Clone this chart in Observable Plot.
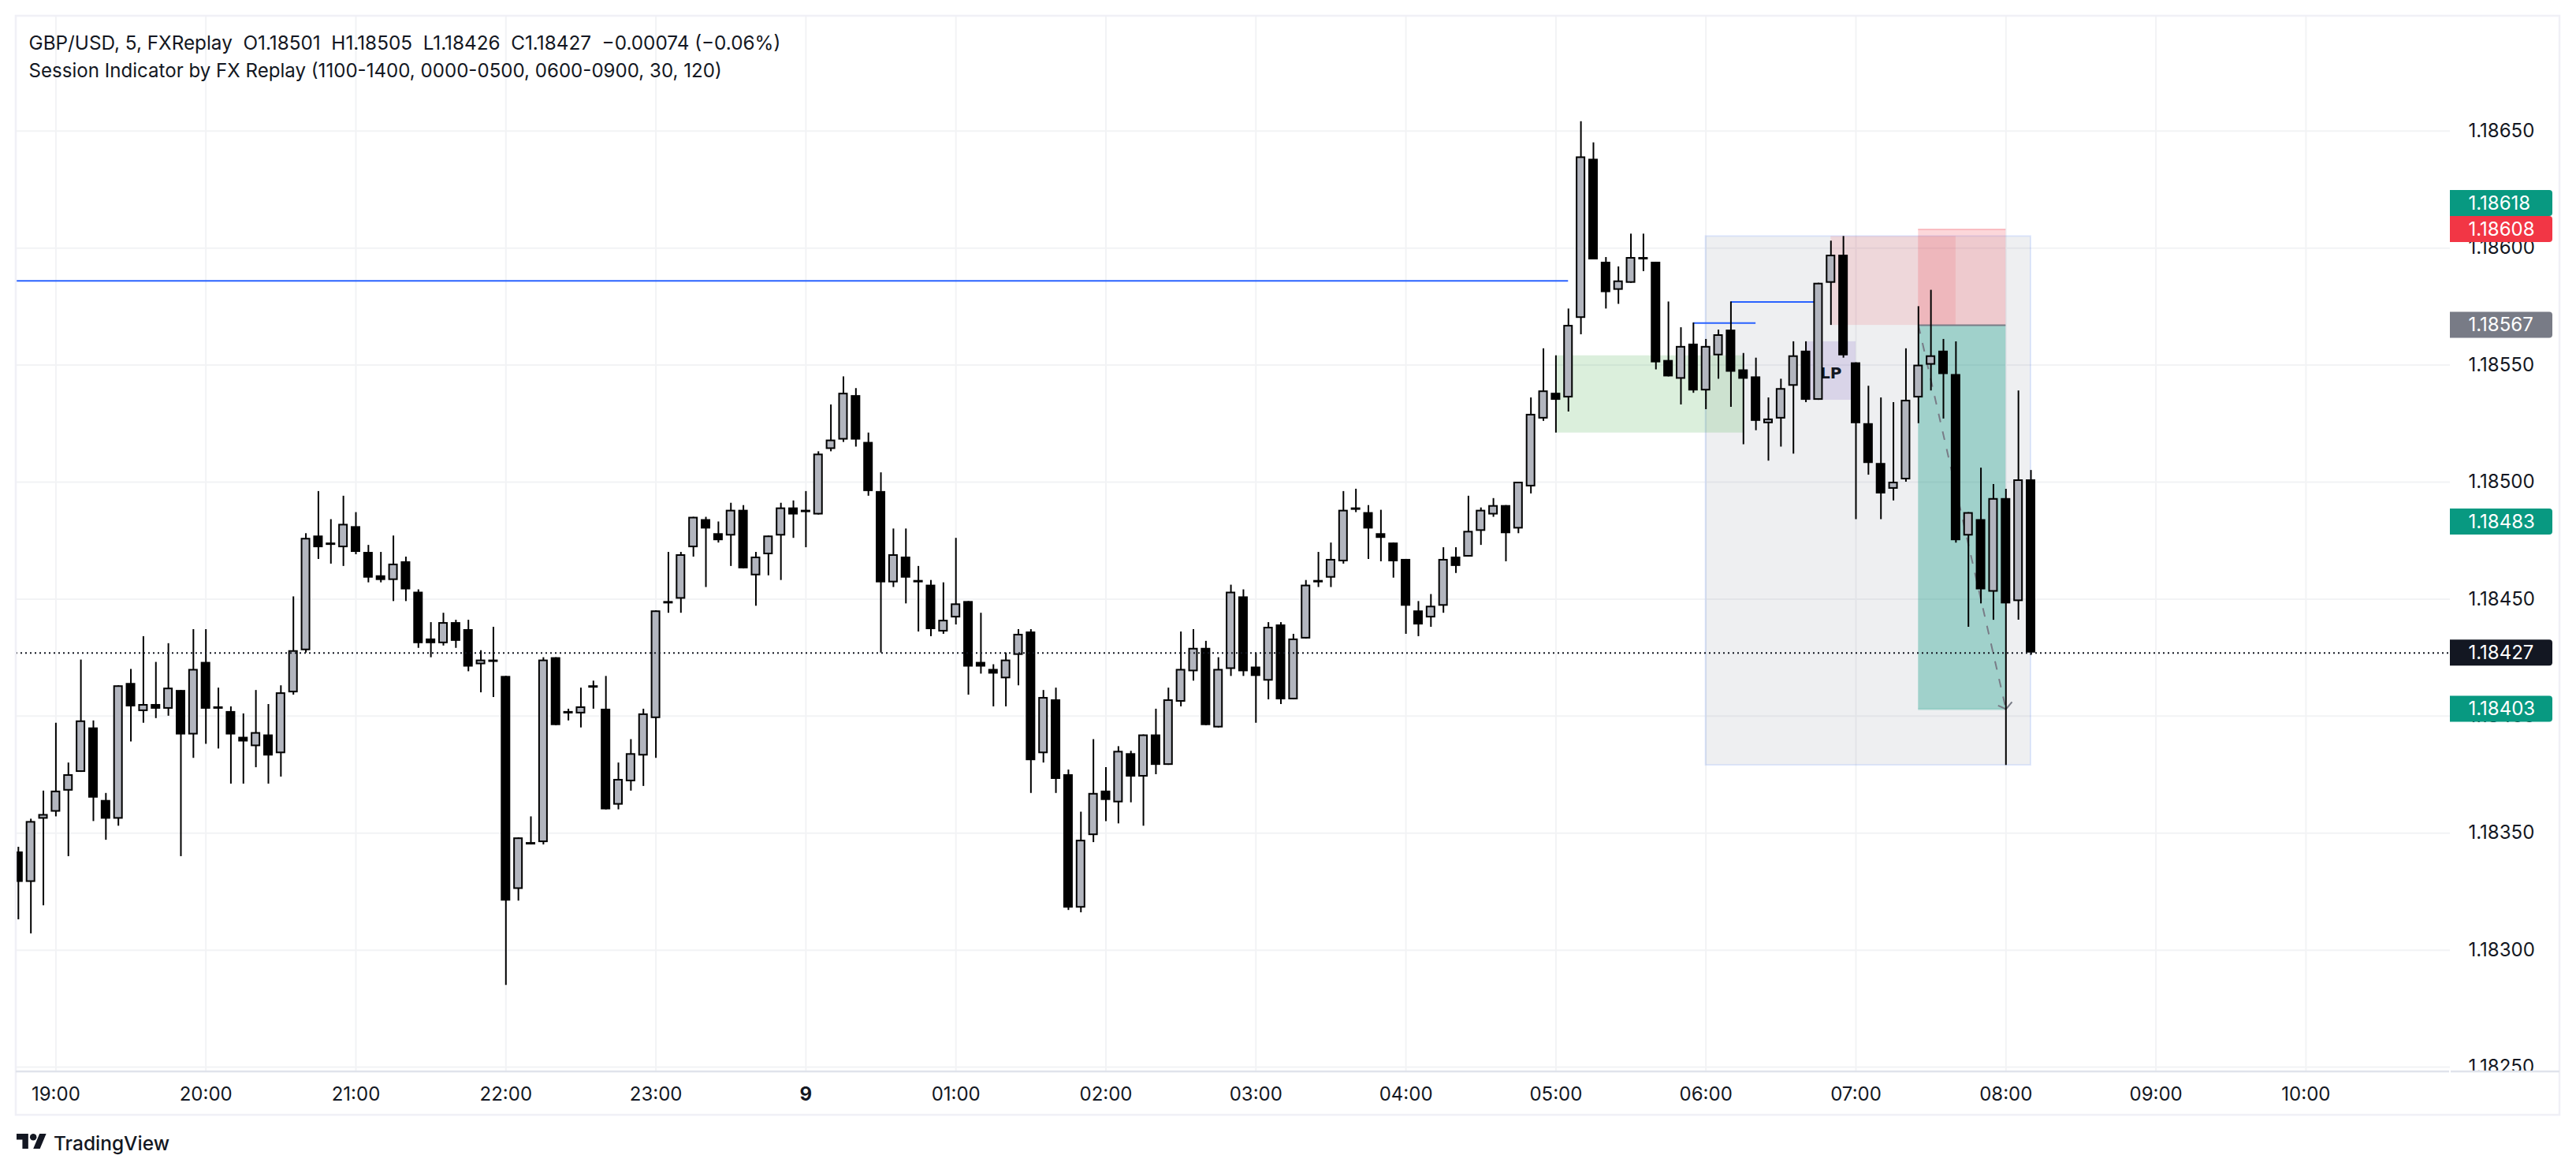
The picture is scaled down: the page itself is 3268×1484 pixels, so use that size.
<!DOCTYPE html>
<html><head><meta charset="utf-8">
<style>html,body{margin:0;padding:0;background:#fff;overflow:hidden}svg{display:block}</style>
<script src="https://cdn.jsdelivr.net/npm/d3@7"></script>
<script src="https://cdn.jsdelivr.net/npm/@observablehq/plot@0.6"></script>
</head><body><div id="chart"></div>
<script>
// Candles, one every 5 minutes; the first bar sits 3 bars before the 19:00 tick.
const opens=[1.18342,1.18329,1.18356,1.18359,1.18368,1.18376,1.18395,1.18364,1.18356,1.18414,
1.18402,1.18405,1.18403,1.18411,1.18392,1.18423,1.18404,1.18402,1.18391,1.18387,
1.18392,1.18384,1.18410,1.18428,1.18477,1.18474,1.18472,1.18481,1.18470,1.18460,
1.18458,1.18466,1.18453,1.18433,1.18431,1.18440,1.18437,1.18422,1.18424,1.18417,
1.18326,1.18346,1.18346,1.18425,1.18402,1.18401,1.18413,1.18403,1.18362,1.18372,
1.18383,1.18399,1.18449,1.18450,1.18472,1.18484,1.18478,1.18477,1.18488,1.18460,
1.18469,1.18477,1.18489,1.18488,1.18486,1.18514,1.18518,1.18537,1.18517,1.18496,
1.18457,1.18468,1.18458,1.18456,1.18436,1.18442,1.18449,1.18423,1.18420,1.18416,
1.18426,1.18436,1.18384,1.18407,1.18375,1.18318,1.18349,1.18368,1.18363,1.18384,
1.18374,1.18392,1.18379,1.18406,1.18419,1.18429,1.18395,1.18420,1.18451,1.18421,
1.18415,1.18439,1.18407,1.18433,1.18458,1.18459,1.18466,1.18489,1.18487,1.18478,
1.18474,1.18467,1.18445,1.18442,1.18447,1.18468,1.18468,1.18479,1.18486,1.18490,
1.18480,1.18498,1.18527,1.18538,1.18536,1.18570,1.18638,1.18594,1.18582,1.18585,
1.18596,1.18594,1.18552,1.18544,1.18559,1.18539,1.18554,1.18565,1.18548,1.18545,
1.18525,1.18527,1.18541,1.18556,1.18535,1.18585,1.18597,1.18551,1.18525,1.18508,
1.18497,1.18501,1.18536,1.18550,1.18556,1.18546,1.18477,1.18484,1.18453,1.18493,
1.18449,1.18501];
const highs=[1.18344,1.18356,1.18368,1.18397,1.18380,1.18424,1.18398,1.18367,1.18413,1.18420,
1.18434,1.18423,1.18431,1.18411,1.18437,1.18437,1.18412,1.18404,1.18401,1.18411,
1.18405,1.18413,1.18451,1.18478,1.18496,1.18484,1.18494,1.18487,1.18473,1.18470,
1.18477,1.18468,1.18454,1.18440,1.18444,1.18441,1.18441,1.18428,1.18438,1.18417,
1.18348,1.18357,1.18425,1.18425,1.18403,1.18412,1.18415,1.18417,1.18380,1.18390,
1.18403,1.18445,1.18470,1.18470,1.18485,1.18485,1.18483,1.18491,1.18490,1.18470,
1.18477,1.18491,1.18492,1.18496,1.18513,1.18533,1.18545,1.18540,1.18521,1.18504,
1.18480,1.18480,1.18464,1.18458,1.18457,1.18476,1.18449,1.18444,1.18422,1.18427,
1.18437,1.18437,1.18411,1.18412,1.18377,1.18359,1.18390,1.18378,1.18387,1.18385,
1.18392,1.18403,1.18412,1.18436,1.18437,1.18432,1.18425,1.18456,1.18454,1.18427,
1.18440,1.18440,1.18435,1.18458,1.18470,1.18474,1.18496,1.18497,1.18490,1.18488,
1.18474,1.18467,1.18449,1.18452,1.18472,1.18472,1.18494,1.18489,1.18493,1.18490,
1.18500,1.18536,1.18557,1.18554,1.18574,1.18654,1.18645,1.18596,1.18592,1.18606,
1.18606,1.18594,1.18577,1.18566,1.18568,1.18561,1.18565,1.18577,1.18555,1.18553,
1.18536,1.18544,1.18560,1.18560,1.18585,1.18603,1.18605,1.18551,1.18541,1.18536,
1.18534,1.18557,1.18575,1.18582,1.18561,1.18560,1.18487,1.18506,1.18499,1.18497,
1.18539,1.18505];
const lows=[1.18313,1.18307,1.18319,1.18357,1.18340,1.18376,1.18355,1.18347,1.18353,1.18389,
1.18397,1.18399,1.18400,1.18340,1.18382,1.18388,1.18386,1.18371,1.18371,1.18378,
1.18371,1.18374,1.18409,1.18427,1.18467,1.18465,1.18464,1.18469,1.18457,1.18457,
1.18449,1.18449,1.18429,1.18425,1.18430,1.18429,1.18419,1.18410,1.18408,1.18285,
1.18321,1.18345,1.18345,1.18396,1.18398,1.18395,1.18403,1.18360,1.18360,1.18368,
1.18370,1.18382,1.18444,1.18444,1.18468,1.18455,1.18474,1.18464,1.18463,1.18447,
1.18460,1.18458,1.18476,1.18472,1.18486,1.18513,1.18517,1.18515,1.18494,1.18427,
1.18455,1.18448,1.18436,1.18434,1.18435,1.18439,1.18409,1.18418,1.18404,1.18404,
1.18413,1.18367,1.18380,1.18367,1.18317,1.18316,1.18346,1.18355,1.18354,1.18363,
1.18353,1.18375,1.18379,1.18404,1.18415,1.18396,1.18395,1.18417,1.18417,1.18397,
1.18407,1.18405,1.18407,1.18433,1.18455,1.18455,1.18465,1.18487,1.18467,1.18466,
1.18459,1.18435,1.18434,1.18438,1.18444,1.18461,1.18468,1.18473,1.18485,1.18466,
1.18478,1.18495,1.18526,1.18521,1.18530,1.18563,1.18595,1.18574,1.18576,1.18585,
1.18590,1.18548,1.18545,1.18533,1.18538,1.18531,1.18544,1.18532,1.18516,1.18522,
1.18509,1.18515,1.18512,1.18534,1.18535,1.18567,1.18553,1.18484,1.18503,1.18484,
1.18492,1.18500,1.18525,1.18539,1.18527,1.18474,1.18438,1.18448,1.18441,1.18379,
1.18441,1.18426];
const closes=[1.18329,1.18355,1.18358,1.18368,1.18375,1.18398,1.18365,1.18356,1.18413,1.18404,
1.18405,1.18403,1.18412,1.18392,1.18420,1.18403,1.18403,1.18392,1.18389,1.18393,
1.18383,1.18410,1.18428,1.18476,1.18472,1.18473,1.18482,1.18470,1.18459,1.18458,
1.18465,1.18454,1.18431,1.18431,1.18440,1.18432,1.18421,1.18424,1.18423,1.18321,
1.18348,1.18345,1.18424,1.18396,1.18401,1.18404,1.18412,1.18360,1.18373,1.18384,
1.18401,1.18445,1.18448,1.18469,1.18485,1.18480,1.18475,1.18488,1.18463,1.18468,
1.18477,1.18489,1.18486,1.18487,1.18512,1.18518,1.18538,1.18518,1.18496,1.18457,
1.18469,1.18459,1.18457,1.18437,1.18441,1.18448,1.18421,1.18421,1.18418,1.18424,
1.18435,1.18381,1.18408,1.18373,1.18318,1.18347,1.18367,1.18364,1.18385,1.18374,
1.18392,1.18379,1.18407,1.18420,1.18429,1.18396,1.18420,1.18453,1.18419,1.18417,
1.18438,1.18407,1.18433,1.18456,1.18457,1.18467,1.18488,1.18488,1.18480,1.18476,
1.18466,1.18447,1.18439,1.18447,1.18467,1.18464,1.18479,1.18488,1.18490,1.18478,
1.18500,1.18529,1.18539,1.18535,1.18567,1.18639,1.18595,1.18581,1.18586,1.18596,
1.18595,1.18551,1.18545,1.18558,1.18539,1.18558,1.18563,1.18547,1.18544,1.18526,
1.18527,1.18540,1.18554,1.18535,1.18585,1.18597,1.18554,1.18525,1.18508,1.18495,
1.18500,1.18535,1.18550,1.18554,1.18546,1.18475,1.18487,1.18454,1.18493,1.18448,
1.18501,1.18427];
const firstBar=-3;

const priceTicks=[1.1865,1.186,1.1855,1.185,1.1845,1.184,1.1835,1.183,1.1825];
const timeLabels=["19:00","20:00","21:00","22:00","23:00","9","01:00","02:00","03:00","04:00","05:00","06:00","07:00","08:00","09:00","10:00"];
const barsPerHour=12;

const lastPrice=1.18427;
const badgePrices=[1.18618,1.18608,1.18567,1.18483,1.18427,1.18403];
const badgeKinds=["profit","loss","entry","profit","last","profit"];

const legendLines=[
 "GBP/USD, 5, FXReplay\u00a0\u00a0O1.18501\u00a0\u00a0H1.18505\u00a0\u00a0L1.18426\u00a0\u00a0C1.18427\u00a0\u00a0\u22120.00074 (\u22120.06%)",
 "Session Indicator by FX Replay (1100-1400, 0000-0500, 0600-0900, 30, 120)"];

// Drawing-tool levels, as bar index and price.
const sessionBox={from:132,to:158,top:1.18605,bottom:1.18379};
const demandBox={from:120,to:135,top:1.18554,bottom:1.18521};
const supplyBox={from:142,to:152,top:1.18605,bottom:1.18567};
const lpBox={from:140,to:144,top:1.1856,bottom:1.18535,label:"LP"};
const position={from:149,to:156,stop:1.18608,entry:1.18567,target:1.18403};
const blueLevels=[{from:firstBar-1,to:121,price:1.18586},{from:131,to:136,price:1.18568},{from:134,to:141,price:1.18577}];

const candles=opens.map((o,i)=>({bar:i+firstBar,o,h:highs[i],l:lows[i],c:closes[i],up:closes[i]>o}));
const hours=timeLabels.map((label,i)=>({bar:i*barsPerHour,label}));

const GRID="#f2f3f5",INK="#131722",BODY="#b2b5be",BLUE="#2962ff";
const colors={profit:"#089981",loss:"#f23645",entry:"#787b86",last:"#131722"};
const W=3268,H=1484,L=20,R=160,T=20,B=125;
const pxPerBar=190.3/barsPerHour;
const xDomain=[(L-70.4)/pxPerBar,(W-R-70.4)/pxPerBar];
const yDomain=[1.18248,1.186991];
const half=6/pxPerBar;

// Stack the price badges so that neighbours do not overlap (33px tall).
const pxPerPrice=(H-B-T)/(yDomain[1]-yDomain[0]);
const badgeSpan=33/pxPerPrice;
const stacked=badgePrices.slice();
for(let i=stacked.length-1;i>0;i--){ if(stacked[i-1]-stacked[i]<badgeSpan) stacked[i-1]=stacked[i]+badgeSpan; }
const badges=badgePrices.map((p,i)=>({price:p,at:stacked[i],color:colors[badgeKinds[i]]}));
const axisEnd=(3238-70.4)/pxPerBar;

const box=(b,fill,fillOpacity)=>Plot.rect([b],{x1:"from",x2:"to",y1:"bottom",y2:"top",fill,fillOpacity});
const vee={draw(ctx){ctx.moveTo(-10,-4.5);ctx.lineTo(0,0);ctx.lineTo(7.7,-9);}};
const font="Inter";
const isDay=d=>d.label.length<3;

const chart=Plot.plot({
  width:W,height:H,marginLeft:L,marginRight:R,marginTop:T,marginBottom:B,
  x:{type:"linear",domain:xDomain,axis:null},
  y:{type:"linear",domain:yDomain,axis:null},
  style:{background:"#fff",fontFamily:font,overflow:"visible"},
  marks:[
    Plot.ruleX(hours,{x:"bar",stroke:GRID,strokeWidth:2}),
    Plot.ruleY(priceTicks,{stroke:GRID,strokeWidth:2}),

    Plot.rect([sessionBox],{x1:"from",x2:"to",y1:"bottom",y2:"top",fill:"#7c8493",fillOpacity:0.13,stroke:BLUE,strokeOpacity:0.13,strokeWidth:2}),
    box(demandBox,"#4caf50",0.2),
    box(supplyBox,"#f23645",0.13),
    box(lpBox,"#673ab7",0.15),
    Plot.rect([position],{x1:"from",x2:"to",y1:"entry",y2:"stop",fill:"#f23645",fillOpacity:0.2}),
    Plot.rect([position],{x1:"from",x2:"to",y1:"target",y2:"entry",fill:"#089981",fillOpacity:0.34}),
    Plot.ruleY([position],{y:"stop",x1:"from",x2:"to",stroke:"#f23645",strokeOpacity:0.2,strokeWidth:2}),
    Plot.ruleY([position],{y:"target",x1:"from",x2:"to",stroke:"#089981",strokeOpacity:0.3,strokeWidth:2}),
    Plot.ruleY([position],{y:"entry",x1:"from",x2:"to",stroke:"#787b86",strokeWidth:2}),
    Plot.link([position],{x1:"from",x2:"to",y1:"entry",y2:"target",stroke:"#787b86",strokeWidth:2,strokeDasharray:"11 12"}),
    Plot.dot([position],{x:"to",y:"target",symbol:vee,stroke:"#787b86",strokeWidth:2,fill:"none"}),

    Plot.ruleY(blueLevels,{y:"price",x1:"from",x2:"to",stroke:BLUE,strokeWidth:2,clip:"frame"}),
    Plot.text([lpBox],{x:d=>(d.from+d.to)/2,y:d=>(d.top+d.bottom)/2-0.00001,text:"label",fill:INK,fontFamily:"DejaVu Sans",fontWeight:700,fontSize:20}),

    Plot.ruleX(candles,{x:"bar",y1:"l",y2:"h",stroke:"#000",strokeWidth:2}),
    Plot.rect(candles,{x1:d=>d.bar-half,x2:d=>d.bar+half,y1:d=>Math.min(d.o,d.c),y2:d=>Math.max(d.o,d.c),fill:"#000",clip:"frame"}),
    Plot.rect(candles.filter(d=>d.up),{x1:d=>d.bar-half,x2:d=>d.bar+half,y1:d=>Math.min(d.o,d.c),y2:d=>Math.max(d.o,d.c),fill:BODY,inset:2,clip:"frame"}),

    Plot.ruleY([lastPrice],{stroke:INK,strokeWidth:2,strokeDasharray:"2 4"}),

    Plot.text(priceTicks,{y:d=>d,text:d=>d.toFixed(5),frameAnchor:"right",dx:23,textAnchor:"start",fill:INK,fontSize:24,fontFamily:font}),
    Plot.rect(badges,{x1:xDomain[1],x2:axisEnd,y1:d=>d.at-badgeSpan/2,y2:d=>d.at+badgeSpan/2,fill:"color",rx2:4}),
    Plot.text(badges,{y:"at",text:d=>d.price.toFixed(5),frameAnchor:"right",dx:23,textAnchor:"start",fill:"#fff",fontSize:24,fontFamily:font}),

    Plot.text(hours.filter(d=>!isDay(d)),{x:"bar",text:"label",frameAnchor:"bottom",dy:29,lineAnchor:"middle",fill:INK,fontSize:24,fontFamily:font}),
    Plot.text(hours.filter(isDay),{x:"bar",text:"label",frameAnchor:"bottom",dy:29,lineAnchor:"middle",fill:INK,fontSize:24,fontFamily:font,fontWeight:700}),
    Plot.text([legendLines[0]],{text:d=>d,frameAnchor:"top-left",dx:16,dy:35,fill:INK,fontSize:24.3,fontFamily:font,lineAnchor:"middle"}),
    Plot.text([legendLines[1]],{text:d=>d,frameAnchor:"top-left",dx:16,dy:70,fill:INK,fontSize:24.1,fontFamily:font,lineAnchor:"middle"})
  ]
});

document.getElementById("chart").append(chart);

// Page furniture around the plot: frame, axis separator, footer logo.
const furniture=d3.select(chart).append("g");
furniture.append("rect").attr("x",3108).attr("y",1360).attr("width",139).attr("height",53).attr("fill","#fff");
furniture.append("rect").attr("x",20).attr("y",20).attr("width",3227).attr("height",1394).attr("fill","none").attr("stroke","#f0f0f6").attr("stroke-width",2.5);
furniture.append("line").attr("x1",20).attr("x2",3107).attr("y1",1359).attr("y2",1359).attr("stroke","#e0e3eb").attr("stroke-width",2.5);
furniture.append("line").attr("x1",3109).attr("x2",3247).attr("y1",1359).attr("y2",1359).attr("stroke","#e0e3eb").attr("stroke-width",2.5);
const logo=furniture.append("g").attr("transform","translate(21,1433.8) scale(1.06)").attr("fill",INK);
logo.append("path").attr("d","M14 22H7V11H0V4h14v18zM28 22h-8l7.5-18h8L28 22z");
logo.append("circle").attr("cx",20).attr("cy",8).attr("r",4);
furniture.append("text").attr("x",68).attr("y",1450).attr("dy","0.36em").attr("text-anchor","start").attr("fill",INK).attr("font-family",font).attr("font-size",24.5).attr("font-weight",500).text("TradingView");
</script></body></html>
